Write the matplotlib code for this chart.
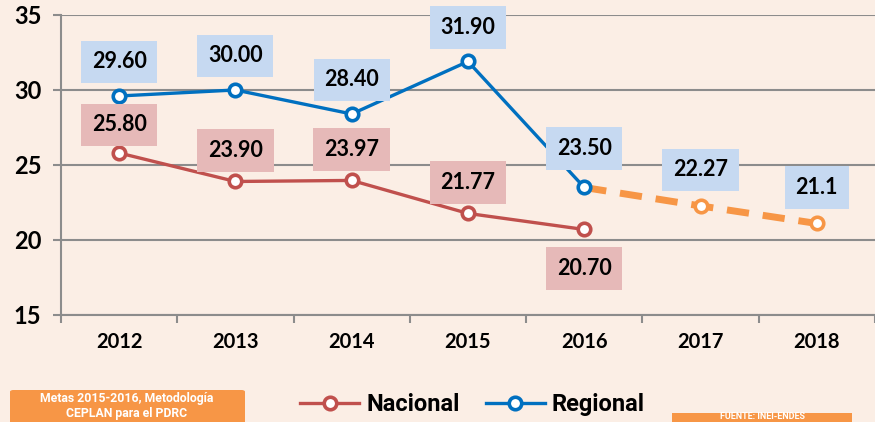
import numpy as np
import matplotlib.pyplot as plt
from matplotlib.lines import Line2D
from matplotlib.patches import FancyBboxPatch

years = ["2012", "2013", "2014", "2015", "2016", "2017", "2018"]
nacional = [25.80, 23.90, 23.97, 21.77, 20.70]
regional = [29.60, 30.00, 28.40, 31.90, 23.50]
meta_x = [4, 5, 6]
meta = [23.50, 22.27, 21.1]

nac_labels = ["25.80", "23.90", "23.97", "21.77", "20.70"]
reg_labels = ["29.60", "30.00", "28.40", "31.90", "23.50"]
meta_labels = ["22.27", "21.1"]

bg = "#FBEEE5"
c_nac = "#C0504D"
c_reg = "#0070C0"
c_meta = "#F79646"
grid_c = "#8C8C8C"
font = ["Lato", "DejaVu Sans"]
narrow = ["Liberation Sans Narrow", "Roboto", "DejaVu Sans"]

W, H = 875, 422
fig = plt.figure(figsize=(8.75, 4.22), dpi=100, facecolor=bg)
ax = fig.add_axes([0.0697, 0.2536, 0.9303, 0.7109], facecolor=bg)

ax.set_xlim(-0.5, 6.5)
ax.set_ylim(15, 35)
ax.set_yticks([15, 20, 25, 30, 35])
ax.set_xticks(range(len(years)))
ax.set_xticklabels(years)
ax.set_xticks(np.arange(-0.5, 7, 1), minor=True)
ax.grid(True, axis="y", color=grid_c, lw=1.5)
ax.set_axisbelow(True)
for s in ["top", "right"]:
    ax.spines[s].set_visible(False)
for s in ["left", "bottom"]:
    ax.spines[s].set_color(grid_c)
    ax.spines[s].set_linewidth(1.5)
ax.tick_params(axis="x", which="major", length=0, pad=12)
ax.tick_params(axis="x", which="minor", length=6, color=grid_c, width=1.5)
ax.tick_params(axis="y", length=6, color=grid_c, width=1.5, pad=8)
for t in ax.get_yticklabels():
    t.set_fontfamily(font)
    t.set_fontsize(17)
    t.set_fontweight("bold")
for t in ax.get_xticklabels():
    t.set_fontfamily(font)
    t.set_fontsize(14.5)
    t.set_fontweight("bold")

mk = dict(marker="o", markersize=9, markerfacecolor="white", markeredgewidth=2.6)
ax.plot(meta_x, meta, color=c_meta, lw=5, dashes=(3.2, 2.0), zorder=2,
        marker="o", markersize=9, markerfacecolor="white", markeredgewidth=2.6,
        markeredgecolor=c_meta, markevery=[1, 2])
ax.plot(range(5), nacional, color=c_nac, lw=2.4, markeredgecolor=c_nac, zorder=3, **mk)
ax.plot(range(5), regional, color=c_reg, lw=2.4, markeredgecolor=c_reg, zorder=3, **mk)


def label(x, y, txt, dy, fc):
    ax.annotate(txt, (x, y), xytext=(0, dy), textcoords="offset pixels",
                ha="center", va="center", fontsize=15.5, fontweight="bold",
                family=font,
                bbox=dict(boxstyle="square,pad=0.5", fc=fc, ec="none"))


nac_dy = [28, 31, 31, 31, -39]
for i, (v, t) in enumerate(zip(nacional, nac_labels)):
    label(i, v, t, nac_dy[i], "#E6B9B8")
reg_dy = [34, 34, 34, 34, 39]
for i, (v, t) in enumerate(zip(regional, reg_labels)):
    label(i, v, t, reg_dy[i], "#C6D9F1")
for x, v, t in zip(meta_x[1:], meta[1:], meta_labels):
    label(x, v, t, 36, "#C6D9F1")

handles = [Line2D([], [], color=c_nac, lw=2.4, markeredgecolor=c_nac, **mk),
           Line2D([], [], color=c_reg, lw=2.4, markeredgecolor=c_reg, **mk)]
fig.legend(handles, ["Nacional", "Regional"], loc="center", bbox_to_anchor=(0.54, 0.042),
           ncol=2, frameon=False, handlelength=2.5, columnspacing=1.1, handletextpad=0.3,
           prop=dict(family=narrow, weight="bold", size=17))

# orange note boxes at the bottom
fig.patches.append(FancyBboxPatch((10 / W, -0.05), 235 / W, 0.05 + 32 / H,
                                  boxstyle="round,pad=0,rounding_size=0.004",
                                  fc=c_meta, ec="none", transform=fig.transFigure))
fig.text(127 / W, 1 - 392 / H, "Metas 2015-2016, Metodología\nCEPLAN para el PDRC",
         ha="center", va="top", color="white", fontsize=8.8, fontweight="bold",
         family=narrow, linespacing=1.15)
fig.patches.append(FancyBboxPatch((672 / W, -0.05), 180 / W, 0.05 + 9 / H,
                                  boxstyle="square,pad=0", fc=c_meta, ec="none",
                                  transform=fig.transFigure))
fig.text(762 / W, 1 - 421 / H, "FUENTE: INEI-ENDES", ha="center", va="bottom",
         color="white", fontsize=6.5, fontweight="bold", family=narrow)

fig.savefig("out.png", dpi=100, facecolor=bg)
